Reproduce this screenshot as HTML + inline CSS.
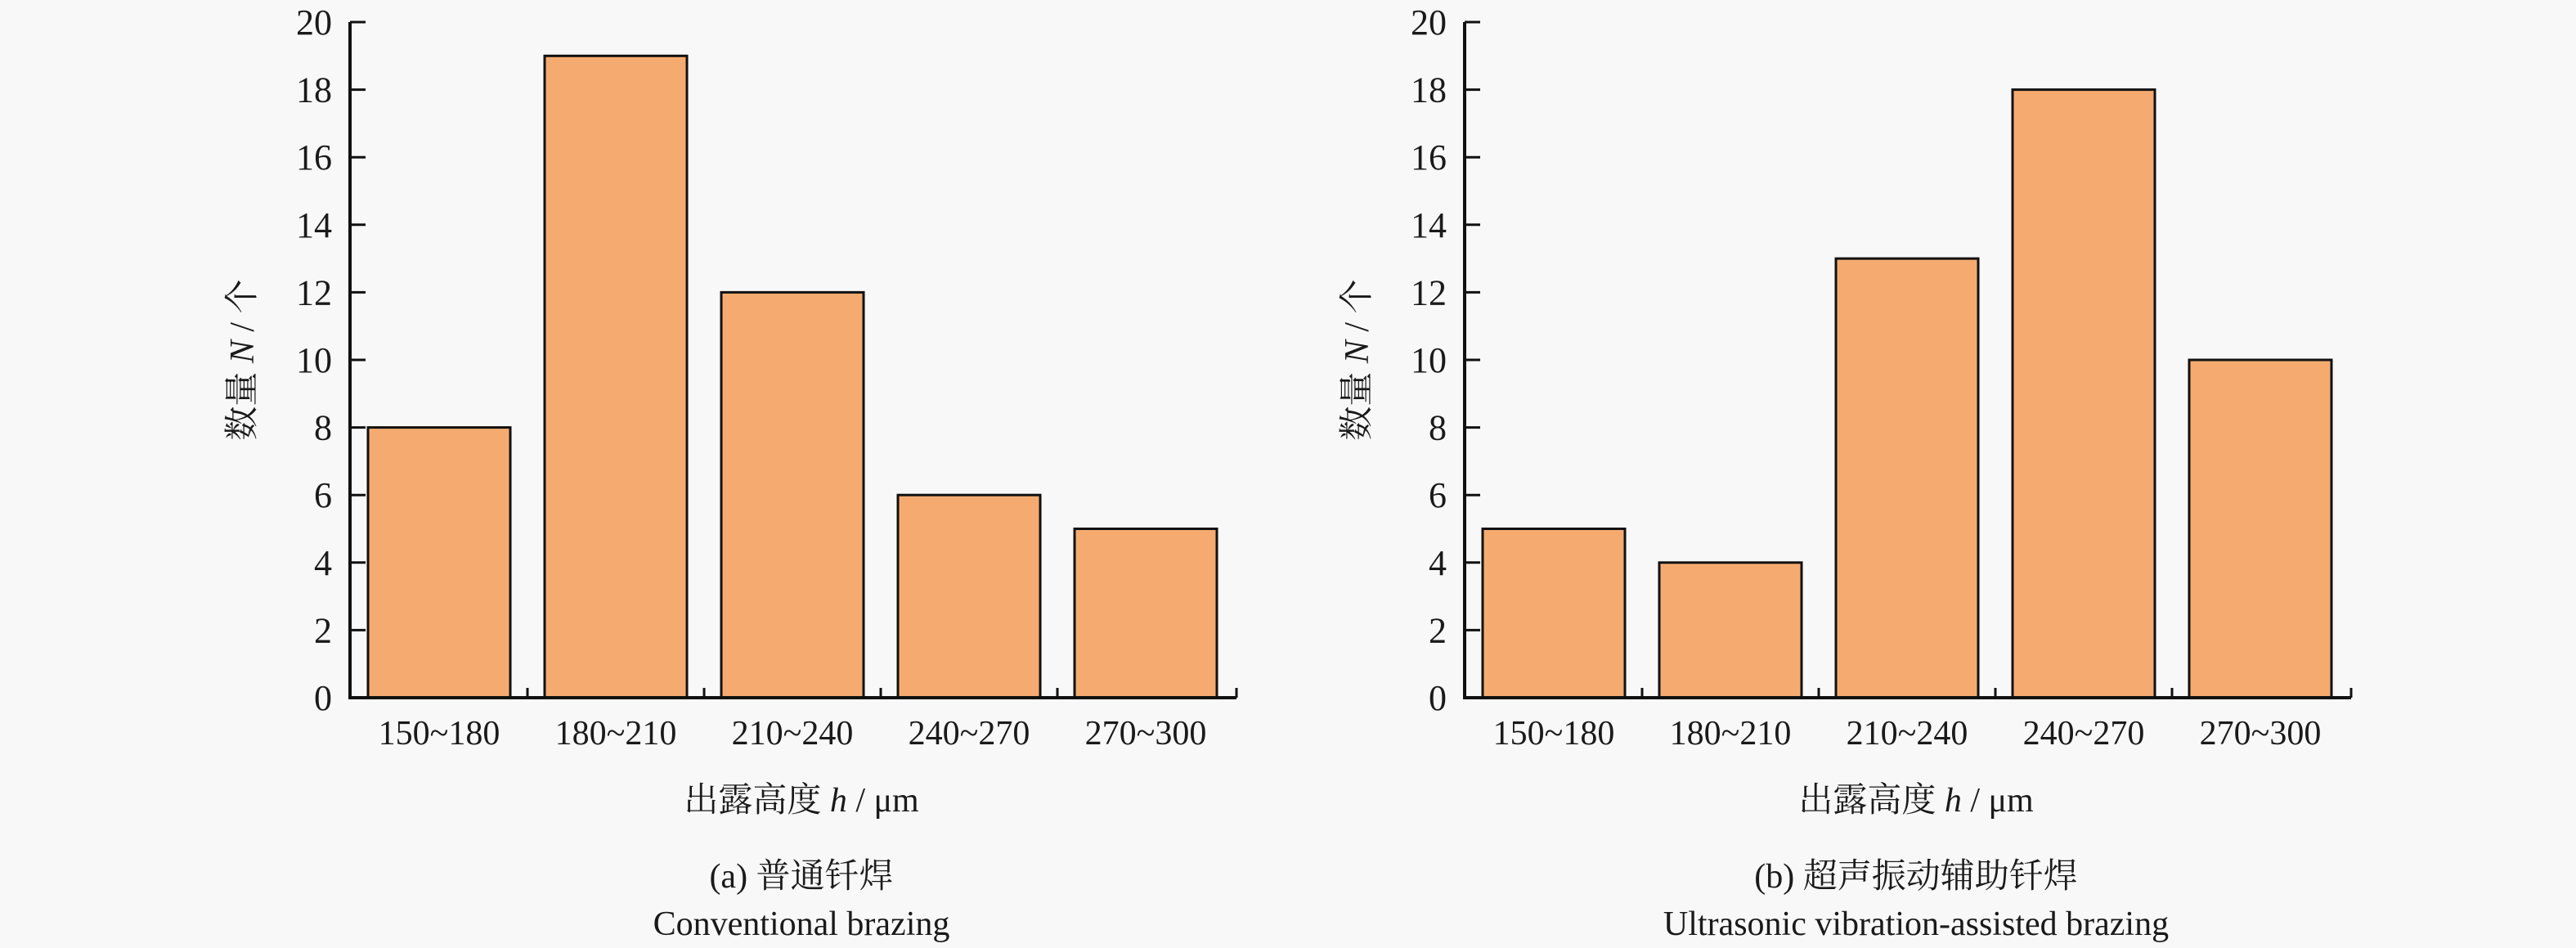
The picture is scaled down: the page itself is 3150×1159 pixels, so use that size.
<!DOCTYPE html>
<html><head><meta charset="utf-8"><style>
html,body{margin:0;padding:0;background:#f8f8f8;}
svg{display:block;}
text{font-family:"Liberation Serif","Noto Serif CJK SC",serif;fill:#1a1a1a;}
</style></head><body>
<svg id="fig" width="3150" height="1159" viewBox="0 0 3150 1159" xmlns="http://www.w3.org/2000/svg"></svg>
<script>
const categories = ["150~180","180~210","210~240","240~270","270~300"];
const seriesA = [8,19,12,6,5];
const seriesB = [5,4,13,18,10];
const yTicks = [0,2,4,6,8,10,12,14,16,18,20];
const NS="http://www.w3.org/2000/svg";
const svg=document.getElementById('fig');
function mk(tag,attrs,parent){const e=document.createElementNS(NS,tag);for(const k in attrs)e.setAttribute(k,attrs[k]);(parent||svg).appendChild(e);return e;}
function panel(ox,values,key,cap1,cap2){
  const g=mk('g',{});
  
  
  const x0=ox, x1=ox+1084, y0=853, yTop=27;
  const yScale=v=>y0-(v/20)*(y0-yTop);
  const step=216, bw=174, first=ox+22;
  const xBand=i=>first+i*step;
  values.forEach((v,i)=>{
    const r=mk('rect',{x:xBand(i),y:yScale(v),width:bw,height:y0-yScale(v),fill:'#f5ab70',stroke:'#111','stroke-width':3},g);
    
    
    const t=mk('text',{x:xBand(i)+bw/2,y:910,'font-size':42,'text-anchor':'middle'},g);
    t.textContent=categories[i];
    
    
    if(i<values.length-1){mk('line',{x1:xBand(i)+bw+21,x2:xBand(i)+bw+21,y1:y0,y2:y0-12,stroke:'#111','stroke-width':3},g);}
  });
  mk('line',{x1:x1,x2:x1,y1:y0,y2:y0-12,stroke:'#111','stroke-width':3},g);
  yTicks.forEach(v=>{
    mk('line',{x1:x0,x2:x0+19,y1:yScale(v),y2:yScale(v),stroke:'#111','stroke-width':3},g);
    const t=mk('text',{x:x0-22,y:yScale(v)+15,'font-size':44,'text-anchor':'end'},g);
    t.textContent=v;
    
    
  });
  const ax=mk('path',{d:`M${x0},${yTop} V${y0} H${x1}`,fill:'none',stroke:'#111','stroke-width':4},g);
  
  
  const yt=mk('text',{x:0,y:0,'font-size':42,'text-anchor':'middle',transform:`translate(${ox-118},440) rotate(-90)`},g);
  yt.innerHTML='数量 <tspan font-style="italic">N</tspan> / 个';
  
  
  const cx=(x0+x1)/2+10;
  const xt=mk('text',{x:cx,y:992,'font-size':42,'text-anchor':'middle'},g);
  xt.innerHTML='出露高度 <tspan font-style="italic">h</tspan> / μm';
  
  
  const c1=mk('text',{x:cx,y:1085,'font-size':42,'text-anchor':'middle'},g);
  c1.textContent=cap1;
  
  
  const c2=mk('text',{x:cx,y:1143,'font-size':42,'text-anchor':'middle'},g);
  c2.textContent=cap2;
  
  
}
panel(428,seriesA,'a','(a) 普通钎焊','Conventional brazing');
panel(1791,seriesB,'b','(b) 超声振动辅助钎焊','Ultrasonic vibration-assisted brazing');
</script>
</body></html>
